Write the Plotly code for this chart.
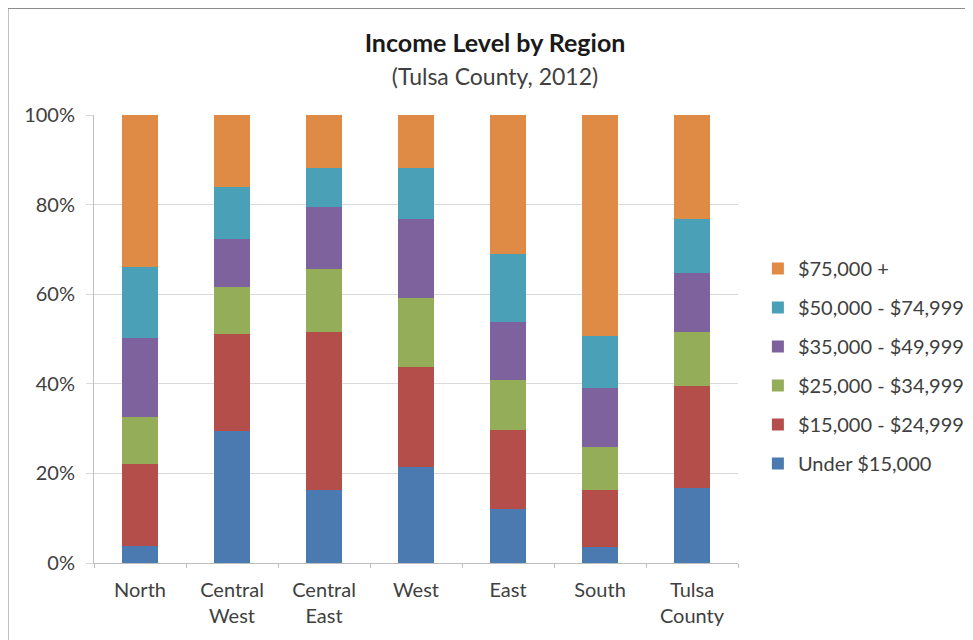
import plotly.graph_objects as go

regions = ["North", "Central<br>West", "Central<br>East", "West", "East", "South", "Tulsa<br>County"]
under_15k = [3.9, 29.5, 16.4, 21.5, 12.0, 3.5, 16.8]
k15_25 = [18.1, 21.6, 35.1, 22.2, 17.7, 12.9, 22.8]
k25_35 = [10.7, 10.6, 14.1, 15.5, 11.1, 9.4, 11.9]
k35_50 = [17.5, 10.6, 13.9, 17.5, 13.1, 13.2, 13.3]
k50_75 = [15.8, 11.6, 8.7, 11.4, 15.0, 11.7, 11.9]
k75_plus = [34.0, 16.1, 11.8, 11.9, 31.1, 49.3, 23.3]

series_names = ["Under $15,000", "$15,000 - $24,999", "$25,000 - $34,999",
                "$35,000 - $49,999", "$50,000 - $74,999", "$75,000 +"]
series_values = [under_15k, k15_25, k25_35, k35_50, k50_75, k75_plus]
colors = ["#4A7AAF", "#B44E4B", "#94AD58", "#7D629D", "#4AA0B6", "#DF8B45"]

fig = go.Figure()
n = len(series_names)
for i, (name, vals, col) in enumerate(zip(series_names, series_values, colors)):
    fig.add_trace(go.Bar(x=regions, y=vals, name=name, legendgroup=name,
                         legendrank=(n - i) * 10,
                         marker=dict(color=col, line=dict(width=0))))

# page body has an 8px offset; compensate in margins
OFF = 8
L, T, PW, PH = 94 - OFF, 115 - OFF, 648, 448
R = 973 - L - PW
B = 640 - T - PH

font_family = "Lato, 'Open Sans', sans-serif"
fig.update_layout(
    barmode="stack",
    bargap=0.6,
    width=973, height=640,
    margin=dict(l=L, r=R, t=T, b=B),
    plot_bgcolor="white", paper_bgcolor="white",
    font=dict(family=font_family, color="#404040", size=20),
    title=dict(
        text="<b>Income Level by Region</b><br><span style='font-size:23px;color:#404040'>(Tulsa County, 2012)</span>",
        x=(495 - OFF) / 973, xanchor="center", xref="container",
        y=1 - 44 / 640, yanchor="top",
        font=dict(family=font_family, size=25, color="#1a1a1a"),
    ),
    legend=dict(
        x=(762 - 94) / 648, xanchor="left",
        y=(563 - 249) / 448, yanchor="top",
        traceorder="grouped",
        tracegroupgap=10,
        font=dict(family=font_family, size=20, color="#404040"),
        itemwidth=30,
        bgcolor="rgba(0,0,0,0)",
    ),
    xaxis=dict(
        showline=True, linecolor="#BFBFBF", linewidth=1,
        ticks="outside", tickson="boundaries", ticklen=4, tickcolor="#BFBFBF",
        tickfont=dict(size=20, color="#404040"),
        ticklabelstandoff=9,
    ),
    yaxis=dict(
        range=[0, 100], tickvals=[0, 20, 40, 60, 80, 100],
        ticktext=["0%", "20%", "40%", "60%", "80%", "100%"],
        showgrid=True, gridcolor="#D9D9D9", gridwidth=1,
        showline=True, linecolor="#BFBFBF", linewidth=1,
        ticks="outside", ticklen=7, tickcolor="#D9D9D9",
        tickfont=dict(size=20, color="#404040"),
        ticklabelstandoff=7,
        zeroline=False,
    ),
    shapes=[dict(type="rect", xref="paper", yref="paper",
                 x0=(7 - 94) / 648, x1=(990 - 94) / 648,
                 y0=(563 - 700) / 448, y1=(563 - 8) / 448,
                 line=dict(color="#8C8C8C", width=2), fillcolor="rgba(0,0,0,0)")],
)

fig.write_html("out.html")
